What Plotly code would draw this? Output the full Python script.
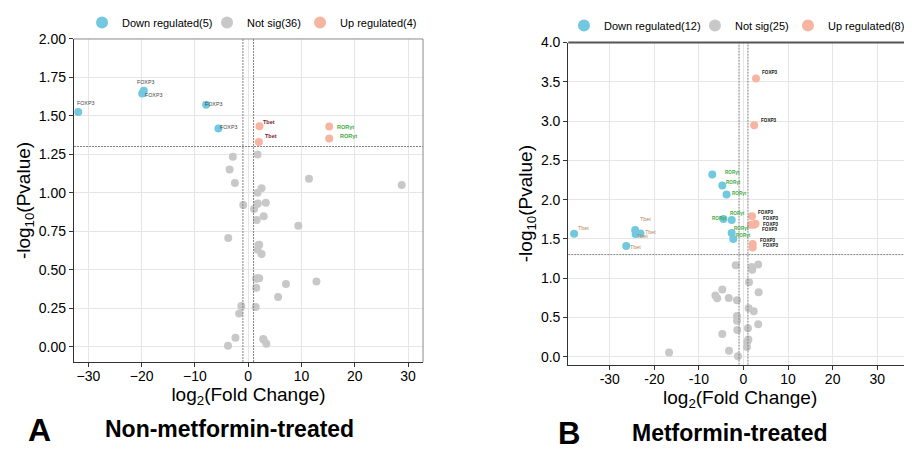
import plotly.graph_objects as go

# ---------------- DATA ----------------
# Panel A (Non-metformin-treated)
A_down_x = [-31.9, -19.6, -19.9, -7.9, -5.6]
A_down_y = [1.526, 1.664, 1.645, 1.573, 1.418]
A_down_lab = ["FOXP3", "FOXP3", "FOXP3", "FOXP3", "FOXP3"]

A_up_x = [2.1, 2.0, 15.2, 15.2]
A_up_y = [1.433, 1.331, 1.431, 1.353]
A_up_lab = ["Tbet", "Tbet", "RORγt", "RORγt"]

A_ns_x = [-2.9, 1.75, -3.5, -2.5, 11.4, 28.8, 2.5, 1.75, -0.94, 1.75, 3.3, 1.1,
          2.9, 1.6, 9.4, -3.75, 2.06, 1.75, 2.5, 1.5, 2.06, 7.07, 12.8, 1.5,
          5.6, -1.3, 1.4, -1.7, -2.4, 2.8, 3.4, -3.8, 2.9, 1.6, 1.8, 1.9]
A_ns_y = [1.234, 1.249, 1.151, 1.063, 1.091, 1.05, 1.03, 1.0, 0.92, 0.929, 0.935, 0.894,
          0.847, 0.823, 0.786, 0.706, 0.662, 0.63, 0.602, 0.441, 0.444, 0.407, 0.424, 0.383,
          0.323, 0.264, 0.258, 0.216, 0.058, 0.05, 0.019, 0.006, 0.045, 0.444, 0.93, 0.66]

# Panel B (Metformin-treated)
B_down_x = [-38.0, -26.3, -24.3, -24.2, -23.1, -7.0, -4.75, -3.8, -4.5, -2.65, -2.65, -2.3]
B_down_y = [1.567, 1.41, 1.614, 1.563, 1.571, 2.32, 2.18, 2.065, 1.755, 1.742, 1.576, 1.5]
B_down_lab = ["Tbet", "Tbet", "Tbet", "Tbet", "Tbet",
              "RORγt", "RORγt", "RORγt", "RORγt", "RORγt", "RORγt", "RORγt"]

B_up_x = [2.8, 2.4, 1.9, 1.7, 2.7, 2.3, 2.06, 2.06]
B_up_y = [3.543, 2.946, 1.788, 1.682, 1.695, 1.68, 1.435, 1.392]
B_up_lab = ["FOXP3"] * 8

B_ns_x = [-1.75, 1.84, 3.3, 1.97, 1.23, -4.75, 3.4, -6.3, -5.9, -3.3, -1.46, 1.16,
          2.3, -1.46, -1.46, 3.3, 1.0, -1.39, -4.75, 0.85, 0.78, -16.7, -3.25, -1.23, 1.1]
B_ns_y = [1.167, 1.142, 1.175, 1.107, 0.95, 0.856, 0.822, 0.779, 0.746, 0.75, 0.72, 0.618,
          0.58, 0.52, 0.46, 0.414, 0.363, 0.341, 0.29, 0.192, 0.124, 0.056, 0.077, 0.009, 0.22]

FC_CUTOFF = 1.0      # log2 fold change threshold
P_LINE = 1.301       # -log10(0.05)

A_xticks = [-30, -20, -10, 0, 10, 20, 30]
A_xticktext = ["\u221230", "\u221220", "\u221210", "0", "10", "20", "30"]
A_yticks = [0.0, 0.25, 0.5, 0.75, 1.0, 1.25, 1.5, 1.75, 2.0]
B_xticks = [-30, -20, -10, 0, 10, 20, 30]
B_xticktext = ["-30", "-20", "-10", "0", "10", "20", "30"]
B_yticks = [0.0, 0.5, 1.0, 1.5, 2.0, 2.5, 3.0, 3.5, 4.0]

# ---------------- STYLE ----------------
FONT = "Liberation Sans, Arial, sans-serif"
C_DOWN = "#72C8DF"
C_NS = "#C8C8C8"
C_UP = "#F6B4A1"
MSIZE = 8
LEG_W_A = [80, 48, 82]   # legend entry widths (px)
LEG_W_B = [86, 48, 82]

# label pixel offsets (ax, ay) relative to each point
A_down_off = [(7, -9), (2, -9), (11, 1), (7, -1), (10, -2)]
A_up_off = [(10, -4), (12, -6), (16, 0), (19, -3)]
B_down_off = [(9, -6), (9, 1), (10, -11), (7, 2), (10, -1),
              (20, -2), (11, -3), (13, -1), (-4, 0), (6, -6), (10, -5), (10, -3)]
B_up_off = [(14, -6), (15, -5), (14, -4), (20, -6), (15, 1), (16, 5), (15, -4), (18, -2)]

A_lab_col = {"FOXP3": "#444444", "Tbet": "#7A1C2E", "RORγt": "#3DAA3D"}
B_lab_col = {"FOXP3": "#111111", "Tbet": "#B8875E", "RORγt": "#3DAA3D"}
A_lab_bold = {"FOXP3": False, "Tbet": True, "RORγt": True}
B_lab_bold = {"FOXP3": True, "Tbet": False, "RORγt": True}
A_lab_size = {"FOXP3": 5.3, "Tbet": 5.5, "RORγt": 5.5}
B_lab_size = {"FOXP3": 4.6, "Tbet": 5.4, "RORγt": 4.6}

fig = go.Figure()


def add_scatter(x, y, color, name, xa, ya, legend, lw):
    fig.add_trace(go.Scatter(
        x=x, y=y, mode="markers", name=name,
        marker=dict(color=color, size=MSIZE, line=dict(width=0)),
        xaxis=xa, yaxis=ya, legend=legend, legendwidth=lw, hoverinfo="skip"))


add_scatter(A_down_x, A_down_y, C_DOWN, f"Down regulated({len(A_down_x)})", "x", "y", "legend", LEG_W_A[0])
add_scatter(A_ns_x, A_ns_y, C_NS, f"Not sig({len(A_ns_x)})", "x", "y", "legend", LEG_W_A[1])
add_scatter(A_up_x, A_up_y, C_UP, f"Up regulated({len(A_up_x)})", "x", "y", "legend", LEG_W_A[2])

add_scatter(B_down_x, B_down_y, C_DOWN, f"Down regulated({len(B_down_x)})", "x2", "y2", "legend2", LEG_W_B[0])
add_scatter(B_ns_x, B_ns_y, C_NS, f"Not sig({len(B_ns_x)})", "x2", "y2", "legend2", LEG_W_B[1])
add_scatter(B_up_x, B_up_y, C_UP, f"Up regulated({len(B_up_x)})", "x2", "y2", "legend2", LEG_W_B[2])

annotations = []


def add_labels(xs, ys, labs, offs, xr, yr, cols, bolds, sizes):
    for x, y, t, (ax, ay) in zip(xs, ys, labs, offs):
        txt = f"<b>{t}</b>" if bolds[t] else t
        annotations.append(dict(
            x=x, y=y, xref=xr, yref=yr, text=txt, showarrow=True,
            arrowcolor="rgba(0,0,0,0)", arrowwidth=0.1, arrowhead=0,
            ax=ax, ay=ay, xanchor="center", yanchor="middle",
            font=dict(family=FONT, size=sizes[t], color=cols[t])))


add_labels(A_down_x, A_down_y, A_down_lab, A_down_off, "x", "y", A_lab_col, A_lab_bold, A_lab_size)
add_labels(A_up_x, A_up_y, A_up_lab, A_up_off, "x", "y", A_lab_col, A_lab_bold, A_lab_size)
add_labels(B_down_x, B_down_y, B_down_lab, B_down_off, "x2", "y2", B_lab_col, B_lab_bold, B_lab_size)
add_labels(B_up_x, B_up_y, B_up_lab, B_up_off, "x2", "y2", B_lab_col, B_lab_bold, B_lab_size)

# panel letters and titles
annotations += [
    dict(x=0.0348, y=0.045, xref="paper", yref="paper", text="<b>A</b>", showarrow=False,
         xanchor="center", yanchor="middle", font=dict(family=FONT, size=32, color="black")),
    dict(x=0.245, y=0.0476, xref="paper", yref="paper", text="<b>Non-metformin-treated</b>",
         showarrow=False, xanchor="center", yanchor="middle",
         font=dict(family=FONT, size=23, color="black")),
    dict(x=0.6206, y=0.0369, xref="paper", yref="paper", text="<b>B</b>", showarrow=False,
         xanchor="center", yanchor="middle", font=dict(family=FONT, size=31, color="black")),
    dict(x=0.7987, y=0.0379, xref="paper", yref="paper", text="<b>Metformin-treated</b>",
         showarrow=False, xanchor="center", yanchor="middle",
         font=dict(family=FONT, size=23, color="black")),
]

shapes = []
for xr, yr, top_col, top_w, right_col in [("x", "y", "#8A8A8A", 1, "#8A8A8A"),
                                          ("x2", "y2", "#555555", 1.8, "#555555")]:
    for v in (-FC_CUTOFF, FC_CUTOFF):
        shapes.append(dict(type="line", xref=xr, yref=f"{yr} domain", x0=v, x1=v, y0=0, y1=1,
                           line=dict(color="#808080", width=1, dash="2px,1px"), layer="above"))
    shapes.append(dict(type="line", xref=f"{xr} domain", yref=yr, x0=0, x1=1, y0=P_LINE, y1=P_LINE,
                       line=dict(color="#808080", width=1, dash="2px,1px"), layer="above"))
    # top and right panel borders
    shapes.append(dict(type="line", xref=f"{xr} domain", yref=f"{yr} domain", x0=0, x1=1, y0=1, y1=1,
                       line=dict(color=top_col, width=top_w), layer="above"))
    shapes.append(dict(type="line", xref=f"{xr} domain", yref=f"{yr} domain", x0=1, x1=1, y0=0, y1=1,
                       line=dict(color=right_col, width=1), layer="above"))

axis_common = dict(showgrid=True, gridcolor="#E6E6E6", gridwidth=1, zeroline=False,
                   showline=True, linecolor="#333333", linewidth=1.2, automargin=False,
                   ticks="outside", ticklen=4, tickcolor="#333333",
                   tickfont=dict(family=FONT, size=14, color="black"))

XT = dict(text="log<sub>2</sub>(Fold Change)", font=dict(family=FONT, size=19), standoff=0)
YT = dict(text="-log<sub>10</sub>(Pvalue)", font=dict(family=FONT, size=19), standoff=3)

# the page body adds an 8px margin, so the figure is drawn at 904x442
fig.update_layout(
    width=904, height=442,
    margin=dict(l=0, r=0, t=0, b=0, autoexpand=False),
    paper_bgcolor="white", plot_bgcolor="white",
    font=dict(family=FONT, color="black"),
    showlegend=True,
    xaxis=dict(domain=[0.0730, 0.4591], range=[-32.7, 32.8], anchor="y",
               tickvals=A_xticks, ticktext=A_xticktext, ticklabelstandoff=-3,
               title=XT, **axis_common),
    yaxis=dict(domain=[0.1991, 0.9299], range=[-0.1, 2.0], anchor="x",
               tickvals=A_yticks, tickformat=".2f",
               title=YT, **axis_common),
    xaxis2=dict(domain=[0.6198, 1.0], range=[-39.3, 37.8], anchor="y2",
                tickvals=B_xticks, ticktext=B_xticktext, ticklabelstandoff=-3,
                title=XT, **axis_common),
    yaxis2=dict(domain=[0.1930, 0.9219], range=[-0.1, 4.0], anchor="x2",
                tickvals=B_yticks, tickformat=".1f",
                title=YT, **axis_common),
    legend=dict(orientation="h", x=0.0819, y=0.9672, xanchor="left", yanchor="middle",
                font=dict(family=FONT, size=11, color="black"), itemsizing="constant",
                bgcolor="rgba(0,0,0,0)", tracegroupgap=0),
    legend2=dict(orientation="h", x=0.615, y=0.9604, xanchor="left", yanchor="middle",
                 font=dict(family=FONT, size=11, color="black"), itemsizing="constant",
                 bgcolor="rgba(0,0,0,0)", tracegroupgap=0),
    annotations=annotations,
    shapes=shapes,
)

fig.write_html("out.html")
